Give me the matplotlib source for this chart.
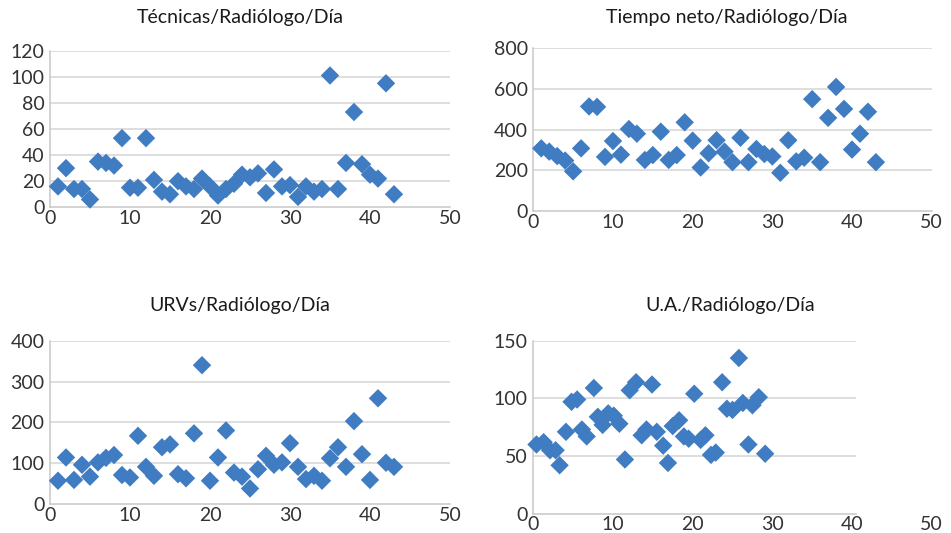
import matplotlib
matplotlib.use("Agg")
import matplotlib.pyplot as plt

plt.rcParams['font.family'] = ['Lato', 'DejaVu Sans']

# ---- data ----
x_idx = list(range(1, 44))

tecnicas = [16, 30, 14, 14, 6, 35, 34, 32, 53, 15, 15, 53, 21, 12, 10, 20, 16, 14,
            22, 16, 9, 14, 18, 25, 23, 26, 11, 29, 16, 17, 8, 16, 12, 14, 101, 14,
            34, 73, 33, 25, 22, 95, 10]

tiempo = [308, 292, 270, 248, 195, 308, 514, 512, 266, 344, 277, 403, 380, 251, 275,
          390, 251, 275, 436, 346, 214, 284, 348, 292, 240, 360, 240, 305, 280, 268,
          188, 348, 244, 262, 550, 240, 458, 610, 502, 302, 380, 488, 240]

urvs = [57, 114, 59, 96, 67, 102, 113, 120, 71, 65, 167, 91, 69, 139, 146, 73, 63,
        173, 340, 57, 114, 180, 77, 67, 38, 85, 118, 96, 102, 149, 91, 61, 69, 57,
        112, 139, 91, 203, 122, 59, 259, 101, 91]

ua_x = [0.4, 1.3, 2.1, 2.8, 3.3, 4.1, 4.8, 5.5, 6.1, 6.7, 7.6, 8.1, 8.7, 9.4, 10.1,
        10.8, 11.5, 12.1, 12.9, 13.6, 14.2, 14.9, 15.5, 16.3, 16.9, 17.5, 18.3, 18.9,
        19.5, 20.2, 21.0, 21.6, 22.3, 22.9, 23.7, 24.3, 25.0, 25.8, 26.3, 27.0, 27.5,
        28.3, 29.1]
ua_y = [60, 62, 55, 55, 42, 71, 97, 99, 73, 67, 109, 84, 77, 87, 85, 78, 47, 107,
        114, 68, 73, 112, 71, 59, 44, 76, 81, 67, 65, 104, 64, 68, 51, 53, 114, 91,
        90, 135, 96, 60, 94, 101, 52]

titles = ["Técnicas/Radiólogo/Día", "Tiempo neto/Radiólogo/Día",
          "URVs/Radiólogo/Día", "U.A./Radiólogo/Día"]
x_ticks = [0, 10, 20, 30, 40, 50]
y_ticks = [[0, 20, 40, 60, 80, 100, 120],
           [0, 200, 400, 600, 800],
           [0, 100, 200, 300, 400],
           [0, 50, 100, 150]]

W, H = 951, 533
fig = plt.figure(figsize=(W / 100, H / 100), dpi=100)

# axes boxes in pixels: left, right, top, bottom
boxes = [(50, 450, 50.7, 207.3),
         (533.3, 931.7, 48.3, 211),
         (50, 450, 340.7, 504),
         (533.3, 931.7, 340.7, 513.7)]
title_pos = [(240, 17), (727, 17), (240, 305), (730, 305)]

series = [(x_idx, tecnicas), (x_idx, tiempo), (x_idx, urvs), (ua_x, ua_y)]
grid_end = [50, 50, 50, 40.5]

blue = '#407cc2'
grid_c = '#d4d4d4'
text_c = '#333333'

for i in range(4):
    l, r, t, b = boxes[i]
    ax = fig.add_axes([l / W, 1 - b / H, (r - l) / W, (b - t) / H])
    xs, ys = series[i]
    yt = y_ticks[i]
    ax.set_xlim(0, 50)
    ax.set_ylim(yt[0], yt[-1])
    ax.hlines(yt[1:], 0, grid_end[i], color=grid_c, lw=1.1, zorder=1)
    ax.scatter(xs, ys, marker='D', s=88, color=blue, edgecolors='none', zorder=3,
               clip_on=False)
    ax.set_xticks(x_ticks)
    ax.set_yticks(yt)
    ax.tick_params(axis='both', length=0, labelsize=14, labelcolor=text_c)
    ax.tick_params(axis='x', pad=2)
    ax.tick_params(axis='y', pad=4)
    for s in ['top', 'right']:
        ax.spines[s].set_visible(False)
    for s in ['left', 'bottom']:
        ax.spines[s].set_color('#c8c8c8')
        ax.spines[s].set_linewidth(1.1)
    ax.spines['bottom'].set_bounds(0, grid_end[i])
    ax.patch.set_alpha(0)
    tx, ty = title_pos[i]
    fig.text(tx / W, 1 - ty / H, titles[i], ha='center', va='center',
             fontsize=14, color='#1a1a1a')

fig.savefig('out.png', dpi=100, facecolor='white')
